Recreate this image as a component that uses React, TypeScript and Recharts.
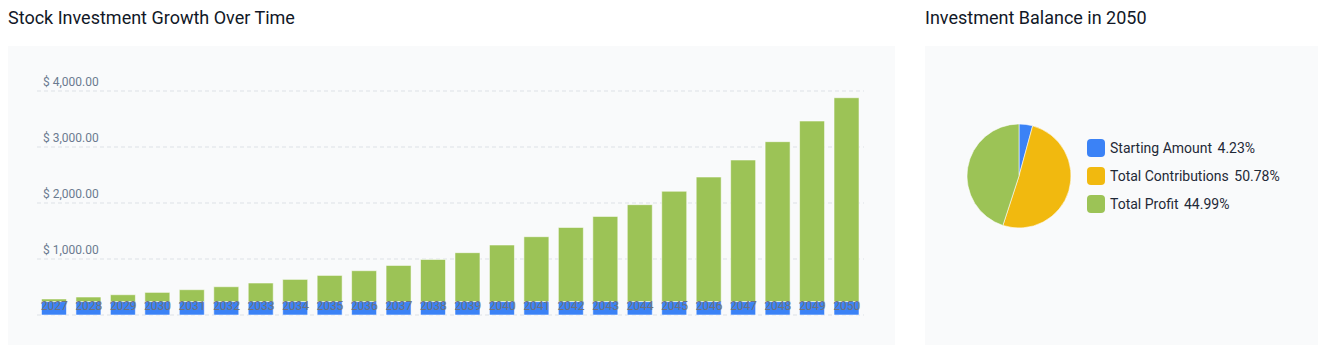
import { BarChart, Bar, XAxis, YAxis, CartesianGrid, PieChart, Pie, Cell, Legend } from 'recharts';

const years = ['2027', '2028', '2029', '2030', '2031', '2032', '2033', '2034', '2035', '2036', '2037', '2038',
  '2039', '2040', '2041', '2042', '2043', '2044', '2045', '2046', '2047', '2048', '2049', '2050'];
const startingAmount = [240, 240, 240, 240, 240, 240, 240, 240, 240, 240, 240, 240,
  240, 240, 240, 240, 240, 240, 240, 240, 240, 240, 240, 240];
const growth = [46, 81, 122, 164, 212, 265, 331, 396, 467, 551, 646, 753,
  873, 1010, 1158, 1324, 1521, 1730, 1970, 2224, 2528, 2855, 3224, 3640];
const yTicks = [1000, 2000, 3000, 4000];

const pieNames = ['Starting Amount', 'Total Contributions', 'Total Profit'];
const pieShares = [4.23, 50.78, 44.99];
const pieColors = ['#3b82f6', '#f1b90f', '#9cc356'];

const barData = years.map((year, i) => ({ year, start: startingAmount[i], growth: growth[i] }));
const pieData = pieNames.map((name, i) => ({ name, value: pieShares[i] }));

// the panels run off the bottom and right of the window
document.documentElement.style.overflow = 'hidden';
document.body.style.margin = '8px 0 0 8px';

const panelBg = '#f9fafb';
const edge = 'rgba(255,255,255,0.55)';

const money = (v: number) => '$ ' + v.toLocaleString('en-US', { minimumFractionDigits: 2, maximumFractionDigits: 2 });

function YTick(props: any) {
  const { x, y, payload } = props;
  return (
    <text x={x - 2} y={y - 5} fill="#6b7a90" fontSize={12} textAnchor="start">
      {money(payload.value)}
    </text>
  );
}

function XTick(props: any) {
  const { x, y, payload } = props;
  return (
    <text x={x} y={y - 13} fill="#6b7280" fontSize={12} textAnchor="middle">
      {payload.value}
    </text>
  );
}

function PieLegend() {
  return (
    <div>
      {pieData.map((d, i) => (
        <div key={d.name} style={{ display: 'flex', alignItems: 'center', height: 28 }}>
          <span style={{ width: 18, height: 18, borderRadius: 4, background: pieColors[i], marginRight: 5 }} />
          <span style={{ fontSize: 14, color: '#1f2937' }}>
            {d.name} <span style={{ marginLeft: 2 }}>{d.value.toFixed(2)}%</span>
          </span>
        </div>
      ))}
    </div>
  );
}

const titleStyle = { fontSize: 18, lineHeight: '20px', height: 38, color: '#111827', margin: 0 };

export default function App() {
  return (
    <div style={{ display: 'flex', fontFamily: 'Roboto, sans-serif', width: 1311 }}>
      <div style={{ width: 887, flexShrink: 0 }}>
        <div style={titleStyle}>Stock Investment Growth Over Time</div>
        <div style={{ background: panelBg, height: 299 }}>
          <BarChart width={887} height={299} data={barData} margin={{ top: 45, right: 31, left: 29, bottom: 29 }} barCategoryGap="13%">
            <CartesianGrid vertical={false} stroke="#dde1e6" strokeDasharray="4 3" />
            <XAxis dataKey="year" height={1} axisLine={false} tickLine={false} tick={(p: any) => <XTick {...p} />} interval={0} />
            <YAxis width={1} domain={[0, 4000]} ticks={yTicks} axisLine={false} tickLine={false} tick={(p: any) => <YTick {...p} />} mirror />
            <Bar dataKey="start" stackId="a" fill="#3b82f6" stroke={edge} strokeWidth={1} isAnimationActive={false} />
            <Bar dataKey="growth" stackId="a" fill="#9cc356" stroke={edge} strokeWidth={1} isAnimationActive={false} />
          </BarChart>
        </div>
      </div>
      <div style={{ width: 393, marginLeft: 30, flexShrink: 0 }}>
        <div style={titleStyle}>Investment Balance in 2050</div>
        <div style={{ background: panelBg, height: 299 }}>
          <PieChart width={393} height={299}>
            <Pie data={pieData} dataKey="value" cx={89} cy={125} outerRadius={52} startAngle={90} endAngle={-270}
              stroke={edge} strokeWidth={1} isAnimationActive={false}>
              {pieData.map((d, i) => <Cell key={d.name} fill={pieColors[i]} />)}
            </Pie>
            <Legend layout="vertical" content={() => <PieLegend />} wrapperStyle={{ left: 162, top: 88, width: 230 }} />
          </PieChart>
        </div>
      </div>
    </div>
  );
}
